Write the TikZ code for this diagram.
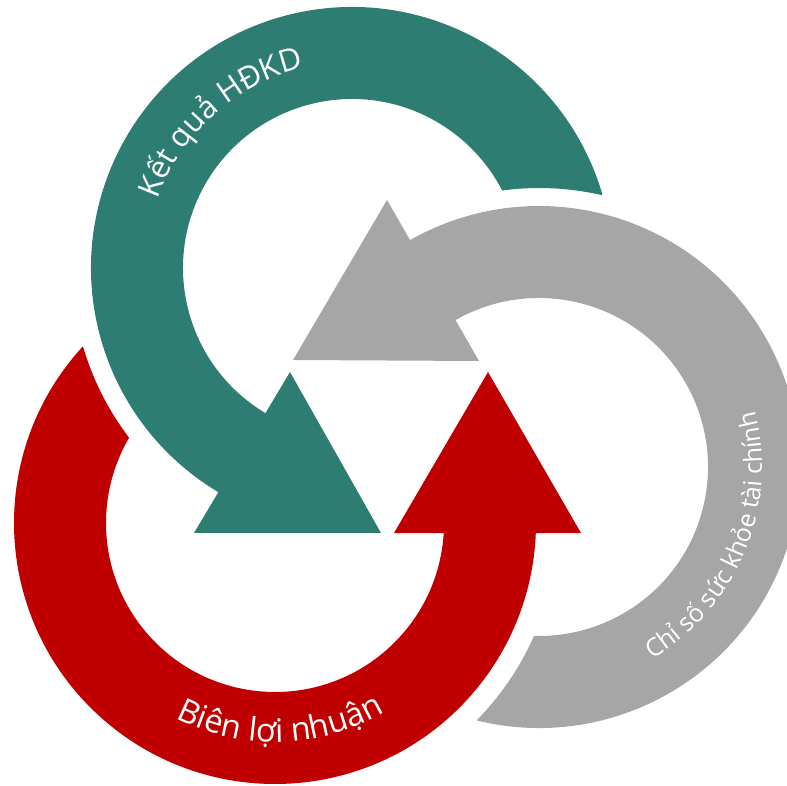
\documentclass[tikz,border=0pt]{standalone}
\usepackage{fontspec}
\setmainfont{Open Sans}
\usetikzlibrary{calc,decorations.text}
\definecolor{tealarrow}{HTML}{2D7D72}
\definecolor{redarrow}{HTML}{C00000}
\definecolor{grayarrow}{HTML}{A6A6A6}
\newcommand{\bigarcfont}{\fontsize{31}{31}\selectfont\color{white}}
\newcommand{\redarcfont}{\fontsize{32.5}{32.5}\selectfont\color{white}}
\newcommand{\smallarcfont}{\fontsize{25}{25}\selectfont\color{white}}
\tikzset{
  arctext/.style={decorate, decoration={text along path, text align=center, text={#1}}}
}

\begin{document}
\begin{tikzpicture}[x=1pt,y=1pt]
\useasboundingbox (0,0) rectangle (787,785);
\coordinate (cR) at (275,262);
\coordinate (cT) at (352,517);
\coordinate (cG) at (539,318);

\fill[tealarrow] ($(cT)+(16.6:261)$) arc[start angle=16.6, end angle=239.2, radius=261]
  -- (194,252) -- (381,252) -- (290,413) -- ($(cT)+(239.2:169)$)
  arc[start angle=239.2, end angle=27.3, radius=169]
  arc[start angle=97.6, end angle=77, radius=280] -- cycle;
\fill[grayarrow] ($(cG)+(256.3:261)$) arc[start angle=256.3, end angle=479.6, radius=261]
  -- (387,585) -- (293,425) -- (479,424) -- ($(cG)+(119.6:169)$)
  arc[start angle=479.6, end angle=268.3, radius=169]
  arc[start angle=-23.8, end angle=-44.4, radius=283] -- cycle;
\fill[redarrow] ($(cR)+(137.5:261)$) arc[start angle=137.5, end angle=357.8, radius=261]
  -- (581,252) -- (488,413) -- (394,252) -- ($(cR)+(356.6:169)$)
  arc[start angle=356.6, end angle=149.7, radius=169]
  arc[start angle=217.3, end angle=196.3, radius=280.5] -- cycle;

\path[arctext={|\bigarcfont|Kết quả HĐKD}]
  ($(cT)+(192:206)$) arc[start angle=192, end angle=72, radius=206];
\path[arctext={|\redarcfont|Biên lợi nhuận}]
  ($(cR)+(211.5:219)$) arc[start angle=211.5, end angle=331.5, radius=219];
\path[arctext={|\smallarcfont|Chỉ số sức khỏe tài chính}]
  ($(cG)+(-82.5:223)$) arc[start angle=-82.5, end angle=37.5, radius=223];
\end{tikzpicture}
\end{document}
